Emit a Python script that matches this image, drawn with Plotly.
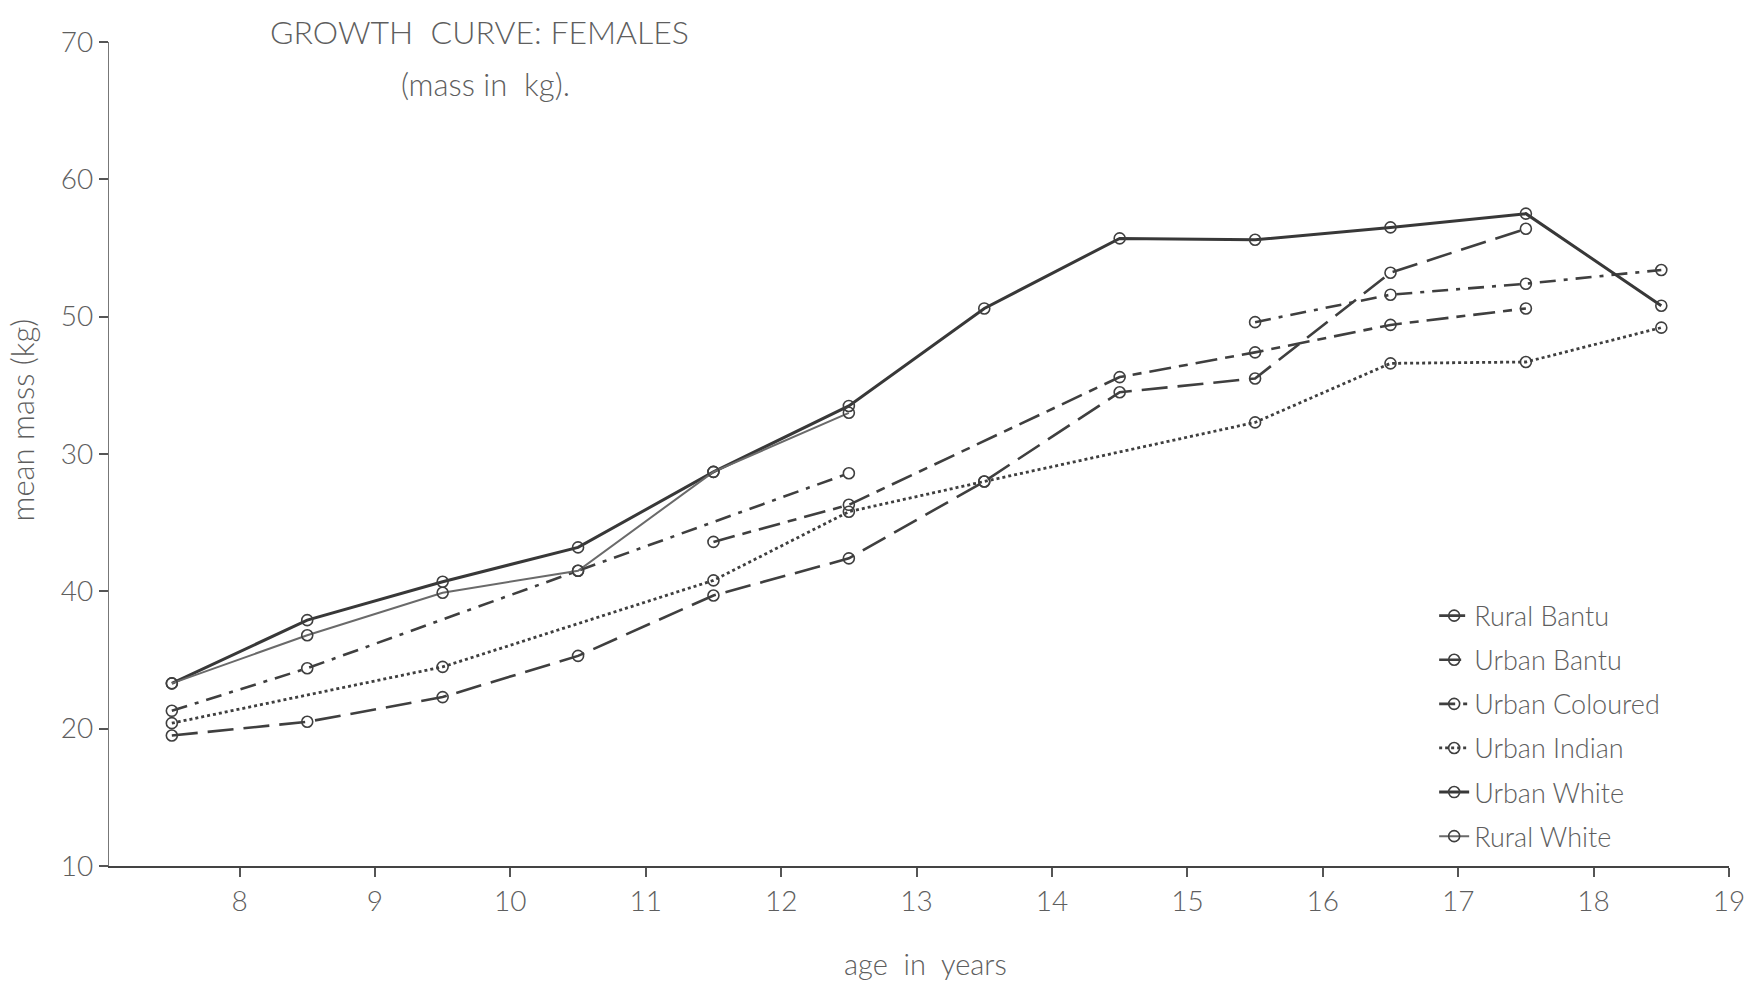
import plotly.graph_objects as go

# ---------------- data ----------------
x_tick_vals = [8, 9, 10, 11, 12, 13, 14, 15, 16, 17, 18, 19]
x_tick_text = ["8", "9", "10", "11", "12", "13", "14", "15", "16", "17", "18", "19"]
y_tick_vals = [10, 20, 30, 40, 50, 60, 70]
y_tick_text = ["10", "20", "40", "30", "50", "60", "70"]  # as printed on the original

series_names = ["Rural Bantu", "Urban Bantu", "Urban Coloured", "Urban Indian", "Urban White", "Rural White"]

rural_bantu_age = [7.5, 8.5, 9.5, 10.5, 11.5, 12.5, 13.5, 14.5, 15.5, 16.5, 17.5]
rural_bantu_mass = [19.5, 20.5, 22.3, 25.3, 29.7, 32.4, 38.0, 44.5, 45.5, 53.2, 56.4]

urban_bantu_age = [11.5, 12.5, 14.5, 15.5, 16.5, 17.5]
urban_bantu_mass = [33.6, 36.3, 45.6, 47.4, 49.4, 50.6]

urban_coloured_age = [7.5, 8.5, 10.5, 12.5, None, 15.5, 16.5, 17.5, 18.5]
urban_coloured_mass = [21.3, 24.4, 31.5, 38.6, None, 49.6, 51.6, 52.4, 53.4]

urban_indian_age = [7.5, 9.5, 11.5, 12.5, 13.5, 15.5, 16.5, 17.5, 18.5]
urban_indian_mass = [20.4, 24.5, 30.8, 35.8, 38.0, 42.3, 46.6, 46.7, 49.2]

urban_white_age = [7.5, 8.5, 9.5, 10.5, 11.5, 12.5, 13.5, 14.5, 15.5, 16.5, 17.5, 18.5]
urban_white_mass = [23.3, 27.9, 30.7, 33.2, 38.7, 43.5, 50.6, 55.7, 55.6, 56.5, 57.5, 50.8]

rural_white_age = [7.5, 8.5, 9.5, 10.5, 11.5, 12.5]
rural_white_mass = [23.3, 26.8, 29.9, 31.5, 38.7, 43.0]

# ---------------- styles ----------------
INK = "#3f3f3f"
TXT = "#5e5e5e"
FONT = "Lato, 'DejaVu Sans', sans-serif"

styles = {
    "Rural Bantu": dict(dash="26px,10px", width=2.6, color=INK),
    "Urban Bantu": dict(dash="22px,8px,9px,8px", width=2.6, color=INK),
    "Urban Coloured": dict(dash="16px,8px,4px,8px", width=2.6, color=INK),
    "Urban Indian": dict(dash="3px,3px", width=2.8, color=INK),
    "Urban White": dict(dash="solid", width=3.0, color="#383838"),
    "Rural White": dict(dash="solid", width=2.0, color="#6a6a6a"),
}

data = {
    "Rural Bantu": (rural_bantu_age, rural_bantu_mass),
    "Urban Bantu": (urban_bantu_age, urban_bantu_mass),
    "Urban Coloured": (urban_coloured_age, urban_coloured_mass),
    "Urban Indian": (urban_indian_age, urban_indian_mass),
    "Urban White": (urban_white_age, urban_white_mass),
    "Rural White": (rural_white_age, rural_white_mass),
}

fig = go.Figure()
for i, name in enumerate(series_names):
    xs, ys = data[name]
    st = styles[name]
    fig.add_trace(go.Scatter(
        x=xs, y=ys, name=name, mode="lines+markers",
        connectgaps=False,
        legendgroup=f"g{i}",
        line=dict(color=st["color"], width=st["width"], dash=st["dash"]),
        marker=dict(symbol="circle-open", size=11, color=INK,
                    line=dict(width=1.6, color=INK)),
    ))

fig.update_layout(
    width=1763, height=990,
    margin=dict(l=109, r=34, t=42, b=124),
    paper_bgcolor="white", plot_bgcolor="white",
    font=dict(family=FONT, color=TXT, size=26, weight=300),
    showlegend=True,
    legend=dict(
        x=0.818, y=0.333, xanchor="left", yanchor="top",
        bgcolor="rgba(0,0,0,0)", borderwidth=0,
        font=dict(family=FONT, size=27, color=TXT, weight=300),
        traceorder="grouped", tracegroupgap=6,
        itemwidth=30,
    ),
    annotations=[
        dict(text="GROWTH  CURVE: FEMALES", x=0.2288, y=1.0125, xref="paper", yref="paper",
             xanchor="center", yanchor="middle", showarrow=False,
             font=dict(family=FONT, size=32, color=TXT, weight=300)),
        dict(text="(mass in  kg).", x=0.2325, y=0.949, xref="paper", yref="paper",
             xanchor="center", yanchor="middle", showarrow=False,
             font=dict(family=FONT, size=31, color=TXT, weight=300)),
        dict(text="mean mass (kg)", x=-0.0535, y=0.541, xref="paper", yref="paper",
             xanchor="center", yanchor="middle", showarrow=False, textangle=-90,
             font=dict(family=FONT, size=31, color=TXT, weight=300)),
        dict(text="age  in  years", x=0.504, y=-0.118, xref="paper", yref="paper",
             xanchor="center", yanchor="middle", showarrow=False,
             font=dict(family=FONT, size=29, color=TXT, weight=300)),
    ],
)

fig.update_xaxes(
    range=[7.036, 19.0], tickmode="array", tickvals=x_tick_vals, ticktext=x_tick_text,
    showgrid=False, zeroline=False, showline=True, linecolor="#444", linewidth=2,
    ticks="outside", ticklen=9, tickwidth=1.5, tickcolor="#555",
    tickfont=dict(family=FONT, size=28, color=TXT, weight=300),
)
fig.update_yaxes(
    range=[10, 70], tickmode="array", tickvals=y_tick_vals, ticktext=y_tick_text,
    showgrid=False, zeroline=False, showline=True, linecolor="#777", linewidth=1.3,
    ticks="outside", ticklen=9, tickwidth=1.5, tickcolor="#555",
    tickfont=dict(family=FONT, size=28, color=TXT, weight=300),
)

fig.write_html("out.html")
